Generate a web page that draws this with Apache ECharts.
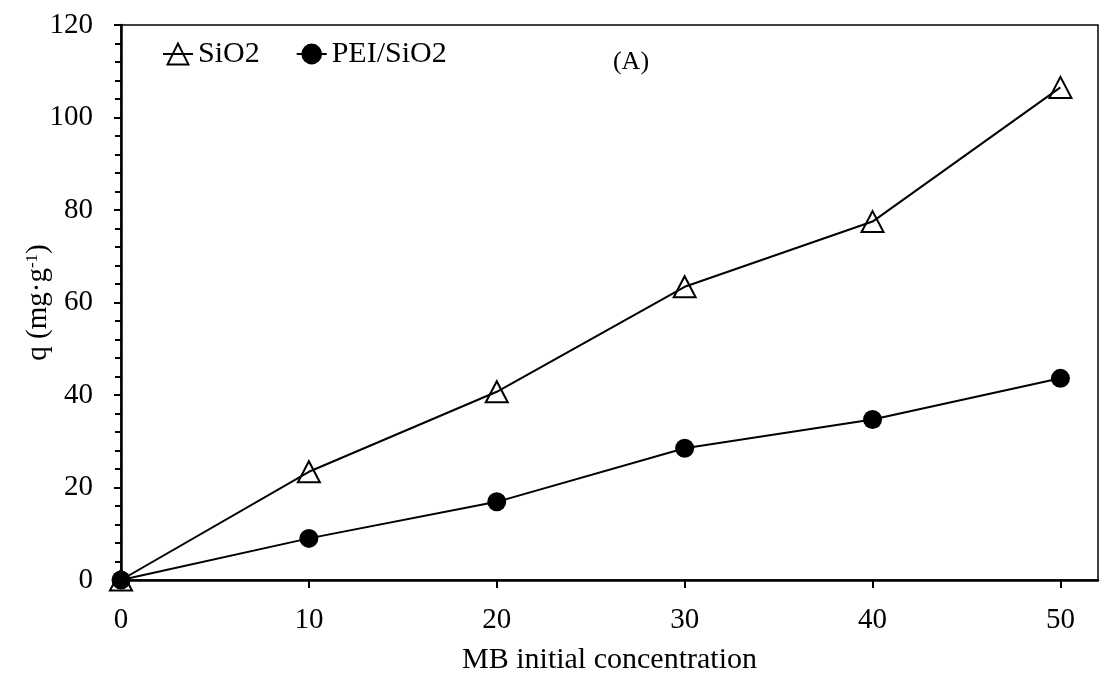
<!DOCTYPE html>
<html>
<head>
<meta charset="utf-8">
<script src="https://cdn.jsdelivr.net/npm/echarts@6/dist/echarts.min.js"></script>
<style>
  html, body { margin: 0; padding: 0; background: #fff; }
  #chart { width: 1100px; height: 674px; }
</style>
</head>
<body>
<div id="chart"></div>
<script>
// MB initial concentration (x) and adsorbed amount q for each adsorbent
var concentrations = [0, 10, 20, 30, 40, 50];
var qSiO2 = [0, 23.4, 40.7, 63.4, 77.5, 106.5];
var qPEISiO2 = [0, 9.0, 16.9, 28.5, 34.7, 43.6];
var xTicks = [0, 10, 20, 30, 40, 50];
var seriesNames = ['SiO2', 'PEI/SiO2'];

var FONT = 'Liberation Serif';

function pairs(xs, ys) {
  return xs.map(function (x, i) { return [x, ys[i]]; });
}

var chart = echarts.init(document.getElementById('chart'), null, { renderer: 'canvas' });

chart.setOption({
  backgroundColor: '#ffffff',
  animation: false,
  grid: {
    left: 121, top: 25, right: 2, bottom: 94,
    outerBoundsMode: 'none', containLabel: false,
    show: true, borderColor: '#000', borderWidth: 1.5, backgroundColor: 'transparent'
  },
  legend: {
    left: 157, top: 34,
    itemWidth: 30, itemHeight: 26, itemGap: 36,
    textStyle: { fontFamily: FONT, fontSize: 30, color: '#000' },
    data: seriesNames
  },
  graphic: [{
    type: 'text', x: 631, y: 62,
    style: {
      text: '(A)', font: '26px "Liberation Serif"', fill: '#000',
      align: 'center', verticalAlign: 'middle'
    }
  }],
  xAxis: {
    type: 'value', min: 0, max: 52,
    name: 'MB initial concentration', nameLocation: 'middle', nameGap: 65,
    nameMoveOverlap: false,
    nameTextStyle: { fontFamily: FONT, fontSize: 30, color: '#000' },
    axisLine: { lineStyle: { color: '#000', width: 2.5 } },
    axisTick: { show: true, length: 8, lineStyle: { color: '#000', width: 2 }, customValues: xTicks },
    axisLabel: { fontFamily: FONT, fontSize: 29, color: '#000', margin: 26, customValues: xTicks },
    splitLine: { show: false }
  },
  yAxis: {
    type: 'value', min: 0, max: 120, interval: 20,
    name: 'q (mg·g{sup|-1})', nameLocation: 'middle', nameGap: 68, nameRotate: 90,
    nameMoveOverlap: false,
    nameTextStyle: {
      fontFamily: FONT, fontSize: 29, color: '#000',
      rich: { sup: { fontFamily: FONT, fontSize: 17, color: '#000', verticalAlign: 'top' } }
    },
    axisLine: { show: true, lineStyle: { color: '#000', width: 2.5 } },
    axisTick: { show: true, length: 7, lineStyle: { color: '#000', width: 2 } },
    minorTick: { show: true, splitNumber: 5, length: 6, lineStyle: { color: '#000', width: 2 } },
    axisLabel: { fontFamily: FONT, fontSize: 29, color: '#000', margin: 28 },
    splitLine: { show: false }
  },
  series: [{
    name: seriesNames[0], type: 'line', clip: false, z: 3,
    data: pairs(concentrations, qSiO2),
    symbol: 'triangle', symbolSize: [22, 21],
    lineStyle: { color: '#000', width: 2 },
    itemStyle: { color: 'transparent', borderColor: '#000', borderWidth: 2 }
  }, {
    name: seriesNames[1], type: 'line', clip: false, z: 4,
    data: pairs(concentrations, qPEISiO2),
    symbol: 'circle', symbolSize: 19,
    lineStyle: { color: '#000', width: 2 },
    itemStyle: { color: '#000', borderColor: '#000', borderWidth: 0 }
  }]
});
</script>
</body>
</html>
